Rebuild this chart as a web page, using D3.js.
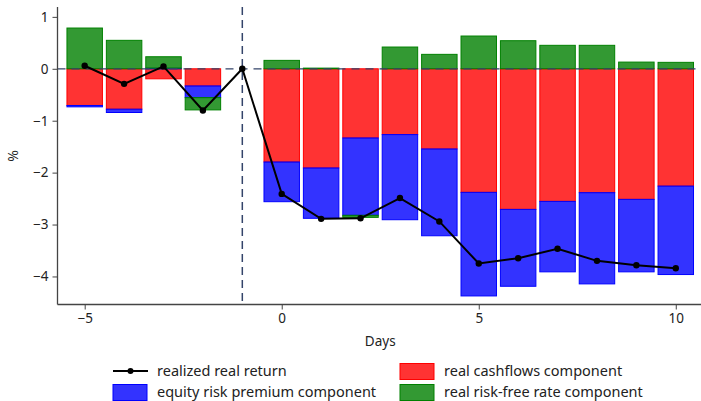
<!DOCTYPE html>
<html>
<head>
<meta charset="utf-8">
<script src="https://cdn.jsdelivr.net/npm/d3@7"></script>
<style>
  html, body { margin: 0; padding: 0; background: #fff; }
  text { font-family: "Noto Sans", "Open Sans", sans-serif; fill: #222; }
</style>
</head>
<body>
<svg id="chart" width="701" height="401"></svg>
<script>
const days = [-5, -4, -3, -2, -1, 0, 1, 2, 3, 4, 5, 6, 7, 8, 9, 10];
const cashflows = [-0.707, -0.778, -0.193, -0.33, 0, -1.795, -1.91, -1.332, -1.267, -1.544, -2.38, -2.708, -2.554, -2.386, -2.515, -2.259];
const equityRisk = [-0.026, -0.064, 0.012, -0.225, 0, -0.765, -0.97, -1.49, -1.64, -1.672, -1.995, -1.481, -1.357, -1.757, -1.396, -1.704];
const riskFree = [0.785, 0.548, 0.22, -0.237, 0, 0.162, 0.013, -0.04, 0.419, 0.278, 0.631, 0.541, 0.452, 0.452, 0.129, 0.124];
const realized = [0.058, -0.29, 0.046, -0.803, 0, -2.41, -2.89, -2.88, -2.49, -2.94, -3.751, -3.649, -3.467, -3.699, -3.784, -3.842];
const xTicks = [-5, 0, 5, 10];
const yTicks = [1, 0, -1, -2, -3, -4];
const seriesNames = ["realized real return", "real cashflows component", "equity risk premium component", "real risk-free rate component"];
const seriesKeys = ["cashflows", "equityRisk", "riskFree"];
const seriesColors = { cashflows: "#ff0000", equityRisk: "#0000ff", riskFree: "#008000" };

const svg = d3.select("#chart");
const x = d3.scaleLinear().domain([-5.69, 10.64]).range([57.5, 701]);
const y = d3.scaleLinear().domain([-4.54, 1.19]).range([304.5, 7]);

const rows = days.map((d, i) => ({ day: d, cashflows: cashflows[i], equityRisk: equityRisk[i], riskFree: riskFree[i] }));
const stacked = d3.stack().keys(seriesKeys).offset(d3.stackOffsetDiverging)(rows);

const barW = x(0.9) - x(0);
const bars = svg.append("g");
stacked.forEach(s => {
  const c = seriesColors[s.key];
  bars.selectAll(null).data(s.filter(d => d[1] !== d[0])).enter().append("rect")
    .attr("x", d => x(d.data.day) - barW / 2)
    .attr("width", barW)
    .attr("y", d => y(Math.max(d[0], d[1])))
    .attr("height", d => Math.abs(y(d[0]) - y(d[1])))
    .attr("fill", c).attr("fill-opacity", 0.8)
    .attr("stroke", c).attr("stroke-width", 1);
});

// reference lines
svg.append("line")
  .attr("x1", x.range()[0]).attr("x2", x.range()[1])
  .attr("y1", y(0)).attr("y2", y(0))
  .attr("stroke", "#34446a").attr("stroke-width", 1.2).attr("stroke-dasharray", "8,6");
svg.append("line")
  .attr("x1", x(-1)).attr("x2", x(-1))
  .attr("y1", y.range()[1]).attr("y2", y.range()[0])
  .attr("stroke", "#34446a").attr("stroke-width", 1.5).attr("stroke-dasharray", "8,5");

// realized line
const line = d3.line().x((d, i) => x(days[i])).y(d => y(d));
svg.append("path").datum(realized).attr("d", line)
  .attr("fill", "none").attr("stroke", "#000").attr("stroke-width", 2);
svg.append("g").selectAll("circle").data(realized).enter().append("circle")
  .attr("cx", (d, i) => x(days[i])).attr("cy", d => y(d)).attr("r", 3.2).attr("fill", "#000");

// axes
const xAxis = d3.axisBottom(x).tickValues(xTicks).tickSize(5).tickPadding(4).tickFormat(d3.format("d"));
const gx = svg.append("g").attr("transform", `translate(0,${y.range()[0]})`).call(xAxis);
const yAxis = d3.axisLeft(y).tickValues(yTicks).tickSize(5).tickPadding(4).tickFormat(d3.format("d"));
const gy = svg.append("g").attr("transform", `translate(${x.range()[0]},0)`).call(yAxis);
[gx, gy].forEach(g => {
  g.select(".domain").attr("stroke", "#444").attr("stroke-width", 1.3);
  g.selectAll(".tick line").attr("stroke", "#444");
  g.selectAll(".tick text").style("font-size", "13.5px").style("font-family", "'Noto Sans', sans-serif").attr("fill", "#222");
});
gx.select(".domain").attr("d", `M${x.range()[0]},0H${x.range()[1]}`);
gy.select(".domain").attr("d", `M0,${y.range()[0]}V${y.range()[1]}`);

svg.append("text").attr("x", x(2.5)).attr("y", 346).attr("text-anchor", "middle")
  .style("font-size", "13.5px").text("Days");
svg.append("text").attr("transform", "translate(18,156) rotate(-90)").attr("text-anchor", "middle")
  .style("font-size", "14px").text("%");

// legend
const lg = svg.append("g");
const legendItems = [
  { name: seriesNames[0], type: "line", lx: 113, cy: 371 },
  { name: seriesNames[1], type: "box", key: "cashflows", lx: 400, cy: 371 },
  { name: seriesNames[2], type: "box", key: "equityRisk", lx: 113, cy: 392 },
  { name: seriesNames[3], type: "box", key: "riskFree", lx: 400, cy: 392 }
];
legendItems.forEach(it => {
  if (it.type === "line") {
    lg.append("line").attr("x1", it.lx).attr("x2", it.lx + 35).attr("y1", it.cy).attr("y2", it.cy)
      .attr("stroke", "#000").attr("stroke-width", 2);
    lg.append("circle").attr("cx", it.lx + 17.5).attr("cy", it.cy).attr("r", 3).attr("fill", "#000");
  } else {
    const c = seriesColors[it.key];
    lg.append("rect").attr("x", it.lx).attr("y", it.cy - 7.5).attr("width", 34).attr("height", 16)
      .attr("fill", c).attr("fill-opacity", 0.8).attr("stroke", c).attr("stroke-width", 1);
  }
  lg.append("text").attr("x", it.lx + 44).attr("y", it.cy).attr("dy", "0.35em")
    .style("font-size", "14.5px").text(it.name);
});
</script>
</body>
</html>
